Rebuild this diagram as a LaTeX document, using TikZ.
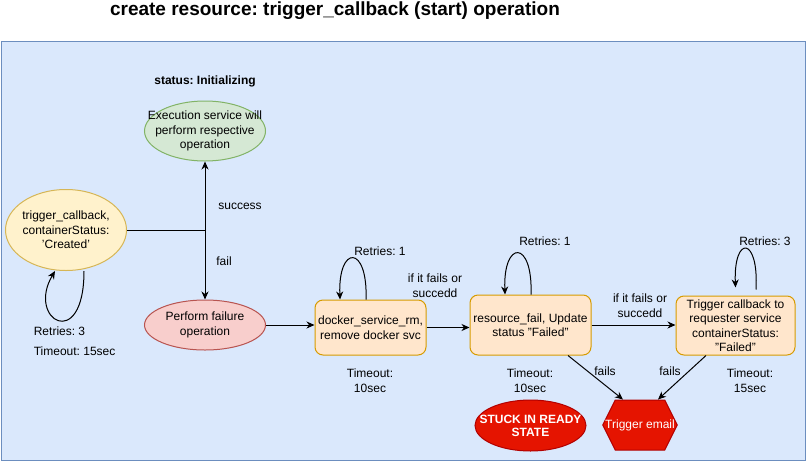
\documentclass[tikz,border=0pt]{standalone}
\usepackage{fontspec}
\setmainfont{Liberation Sans}
\usetikzlibrary{shapes.geometric,shapes.symbols,arrows.meta,positioning}
\frenchspacing

\definecolor{bgfill}{HTML}{DAE8FC}
\definecolor{bgline}{HTML}{6C8EBF}
\definecolor{grnfill}{HTML}{D5E8D4}
\definecolor{grnline}{HTML}{82B366}
\definecolor{yelfill}{HTML}{FFF2CC}
\definecolor{yelline}{HTML}{D6B656}
\definecolor{redfill}{HTML}{F8CECC}
\definecolor{redline}{HTML}{B85450}
\definecolor{orgfill}{HTML}{FFE6CC}
\definecolor{orgline}{HTML}{D79B00}
\definecolor{alarmfill}{HTML}{E51400}
\definecolor{alarmline}{HTML}{B20000}

\tikzset{
	every node/.style={font=\fontsize{12}{14.5}\selectfont, align=center},
	ell/.style={ellipse, draw, inner sep=-15pt, line width=1pt}, % text may overflow, size comes from minimum size
	stepbox/.style={rectangle, rounded corners=8pt, draw=orgline, fill=orgfill, inner sep=0pt, line width=1pt},
	arr/.style={-{Stealth[length=8pt,width=7pt,inset=2.5pt]}},
}

\begin{document}
\begin{tikzpicture}[x=1pt,y=-1pt,line width=1pt]
		\useasboundingbox (0,0) rectangle (806,461);
		\node[font=\fontsize{19}{22}\selectfont\bfseries] (title) at (335,11) {create resource: trigger\_callback (start) operation};
		\draw[fill=bgfill,draw=bgline] (1,41) rectangle (805,460); % background panel
		
		% start and the two outcomes
		\node[font=\fontsize{12}{14.5}\selectfont\bfseries] (status) at (205,81) {status: Initializing};
		\node[ell, fill=grnfill, draw=grnline, minimum width=121, minimum height=60] (init) at (205,131) {Execution service will\\perform respective\\operation};
		\node[ell, fill=yelfill, draw=yelline, minimum width=121, minimum height=81] (trig0) at (66,230) {trigger\_callback,\\containerStatus:\\'Created'};
		\node[ell, fill=redfill, draw=redline, minimum width=121, minimum height=50] (failop) at (205,325) {Perform failure\\operation};
		
		% the three steps
		\node[stepbox, minimum width=111, minimum height=55] (dock) at (370.5,327.5) {docker\_service\_rm,\\remove docker svc};
		\node[stepbox, minimum width=121, minimum height=60] (res) at (530.5,325) {resource\_fail, Update\\status "Failed"};
		\node[stepbox, minimum width=119, minimum height=59] (trig) at (735.5,325.5) {Trigger callback to\\requester service\\containerStatus:\\"Failed"};
		
		% end states
		\node[ell, fill=alarmfill, draw=alarmline, text=white, font=\fontsize{12}{13}\selectfont\bfseries, minimum width=111, minimum height=51] (stuck) at (530.5,425.5) {STUCK IN READY\\STATE};
		\node[signal, signal to=east and west, signal pointer angle=127, fill=alarmfill, draw=alarmline, text=white, inner xsep=-10pt, inner ysep=0pt, minimum height=50] (email) at (640,425) {Trigger email};
		
		% connectors
		\draw[arr] (trig0.east) -| (init.south);
		\draw[arr] (trig0.east) -| (failop.north);
		\draw[arr] (failop.east) -- (failop.east -| dock.west);
		\draw[arr] (dock.east) -- (dock.east -| res.west);
		\draw[arr] (res.east) -- (res.east -| trig.west);
		\draw[arr] ([xshift=37.5]res.south) -- ([xshift=-17]email.north);
		\draw[arr] ([xshift=-29.5]trig.south) -- ([xshift=18]email.north);
		
		% retry loops
		\draw[arr] ([xshift=18]trig0.south) .. controls +(0,82) and +(-29,49) .. ([xshift=-11]trig0.south);
		\draw[arr] ([xshift=-4.5]dock.north) .. controls +(2,-55) and +(-2,-55) .. ([xshift=-30.5]dock.north);
		\draw[arr] ([xshift=0.5]res.north) .. controls +(2,-55) and +(-2,-55) .. ([xshift=-25.5]res.north);
		\draw[arr] ([xshift=20.5,yshift=6]trig.north) .. controls +(3,-53) and +(-2,-53) .. ([yshift=8]trig.north);
		
		% texts
		\node (succ) at (240,206) {success};
		\node (fl) at (224,261) {fail};
		\node[anchor=west] (retry0) at (30,331) {Retries: 3};
		\node[anchor=west] (tout0) at (30,351) {Timeout: 15sec};
		\node (retry1) at (380,251) {Retries: 1};
		\node (retry2) at (545,241) {Retries: 1};
		\node (retry3) at (765,241) {Retries: 3};
		\foreach \n/\x/\t in {1/370/10, 2/530/10, 3/750/15}
		{
			\node (tout\n) at (\x,380.5) {Timeout:\\\t sec};
		}
		\node (cond1) at (435,285.5) {if it fails or\\succedd};
		\node (cond2) at (640,305.5) {if it fails or\\succedd};
		\node (failsA) at (605,371) {fails};
		\node (failsB) at (670,371) {fails};
\end{tikzpicture}
\end{document}
